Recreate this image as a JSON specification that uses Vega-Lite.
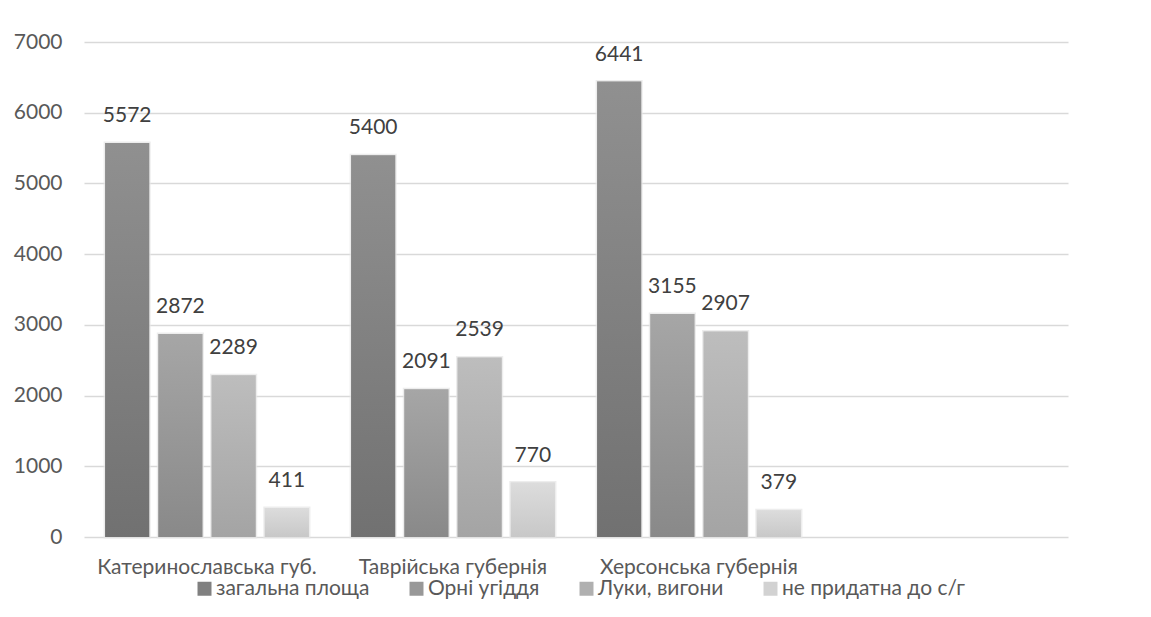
{
  "$schema": "https://vega.github.io/schema/vega-lite/v6.json",
  "width": 984,
  "height": 495,
  "autosize": {"type": "none"},
  "padding": {"left": 84, "top": 42, "right": 83, "bottom": 80},
  "background": "white",
  "data": {
    "values": [
      {"region": "Катеринославська губ.", "series": "загальна площа", "value": 5572},
      {"region": "Катеринославська губ.", "series": "Орні угіддя", "value": 2872},
      {"region": "Катеринославська губ.", "series": "Луки, вигони", "value": 2289},
      {"region": "Катеринославська губ.", "series": "не придатна до с/г", "value": 411},
      {"region": "Таврійська губернія", "series": "загальна площа", "value": 5400},
      {"region": "Таврійська губернія", "series": "Орні угіддя", "value": 2091},
      {"region": "Таврійська губернія", "series": "Луки, вигони", "value": 2539},
      {"region": "Таврійська губернія", "series": "не придатна до с/г", "value": 770},
      {"region": "Херсонська губернія", "series": "загальна площа", "value": 6441},
      {"region": "Херсонська губернія", "series": "Орні угіддя", "value": 3155},
      {"region": "Херсонська губернія", "series": "Луки, вигони", "value": 2907},
      {"region": "Херсонська губернія", "series": "не придатна до с/г", "value": 379}
    ]
  },
  "encoding": {
    "x": {
      "field": "region",
      "type": "nominal",
      "sort": null,
      "scale": {
        "domain": ["Катеринославська губ.", "Таврійська губернія", "Херсонська губернія", " "],
        "paddingInner": 0,
        "paddingOuter": 0
      },
      "axis": {
        "title": null,
        "labelAngle": 0,
        "labelFont": "Lato",
        "labelFontSize": 21,
        "labelColor": "#595959",
        "labelPadding": 19,
        "labelLimit": 0,
        "labelOverlap": false,
        "ticks": false,
        "domain": false,
        "grid": false
      }
    },
    "xOffset": {
      "field": "series",
      "type": "nominal",
      "scale": {
        "domain": ["загальна площа", "Орні угіддя", "Луки, вигони", "не придатна до с/г"],
        "paddingInner": 0.17,
        "paddingOuter": 0.396
      }
    },
    "y": {
      "field": "value",
      "type": "quantitative",
      "scale": {"domain": [0, 7000], "nice": false},
      "axis": {
        "title": null,
        "format": "d",
        "values": [0, 1000, 2000, 3000, 4000, 5000, 6000, 7000],
        "labelFont": "Lato",
        "labelFontSize": 21,
        "labelColor": "#595959",
        "labelPadding": 22,
        "ticks": false,
        "domain": false,
        "grid": true,
        "gridColor": "#d9d9d9",
        "gridWidth": 1.5
      }
    }
  },
  "layer": [
    {
      "mark": {"type": "bar", "stroke": "#e6e6e6", "strokeWidth": 3, "strokeOpacity": 0.7},
      "encoding": {
        "color": {
          "field": "series",
          "type": "nominal",
          "scale": {
            "domain": ["загальна площа", "Орні угіддя", "Луки, вигони", "не придатна до с/г"],
            "range": ["#808080", "#989898", "#b0b0b0", "#d2d2d2"]
          },
          "legend": {
            "title": null,
            "orient": "none",
            "direction": "horizontal",
            "legendX": 110,
            "legendY": 536,
            "symbolType": "square",
            "symbolSize": 196,
            "symbolStrokeWidth": 0,
            "labelFont": "Lato",
            "labelFontSize": 21,
            "labelColor": "#595959",
            "labelOffset": 1,
            "labelLimit": 0,
            "columnPadding": 36
          }
        }
      }
    },
    {
      "mark": {"type": "bar"},
      "encoding": {
        "fill": {
          "condition": [
            {"test": "datum.series === 'загальна площа'", "value": {"gradient": "linear", "x1": 0, "y1": 0, "x2": 0, "y2": 1, "stops": [{"offset": 0, "color": "#909090"}, {"offset": 1, "color": "#717171"}]}},
            {"test": "datum.series === 'Орні угіддя'", "value": {"gradient": "linear", "x1": 0, "y1": 0, "x2": 0, "y2": 1, "stops": [{"offset": 0, "color": "#a6a6a6"}, {"offset": 1, "color": "#898989"}]}},
            {"test": "datum.series === 'Луки, вигони'", "value": {"gradient": "linear", "x1": 0, "y1": 0, "x2": 0, "y2": 1, "stops": [{"offset": 0, "color": "#bdbdbd"}, {"offset": 1, "color": "#a4a4a4"}]}}
          ],
          "value": {"gradient": "linear", "x1": 0, "y1": 0, "x2": 0, "y2": 1, "stops": [{"offset": 0, "color": "#dcdcdc"}, {"offset": 1, "color": "#c8c8c8"}]}
        }
      }
    },
    {
      "mark": {"type": "text", "baseline": "bottom", "dy": -17, "font": "Lato", "fontSize": 21, "color": "#404040"},
      "encoding": {
        "text": {"field": "value", "type": "quantitative"}
      }
    }
  ],
  "config": {"view": {"stroke": null}}
}
